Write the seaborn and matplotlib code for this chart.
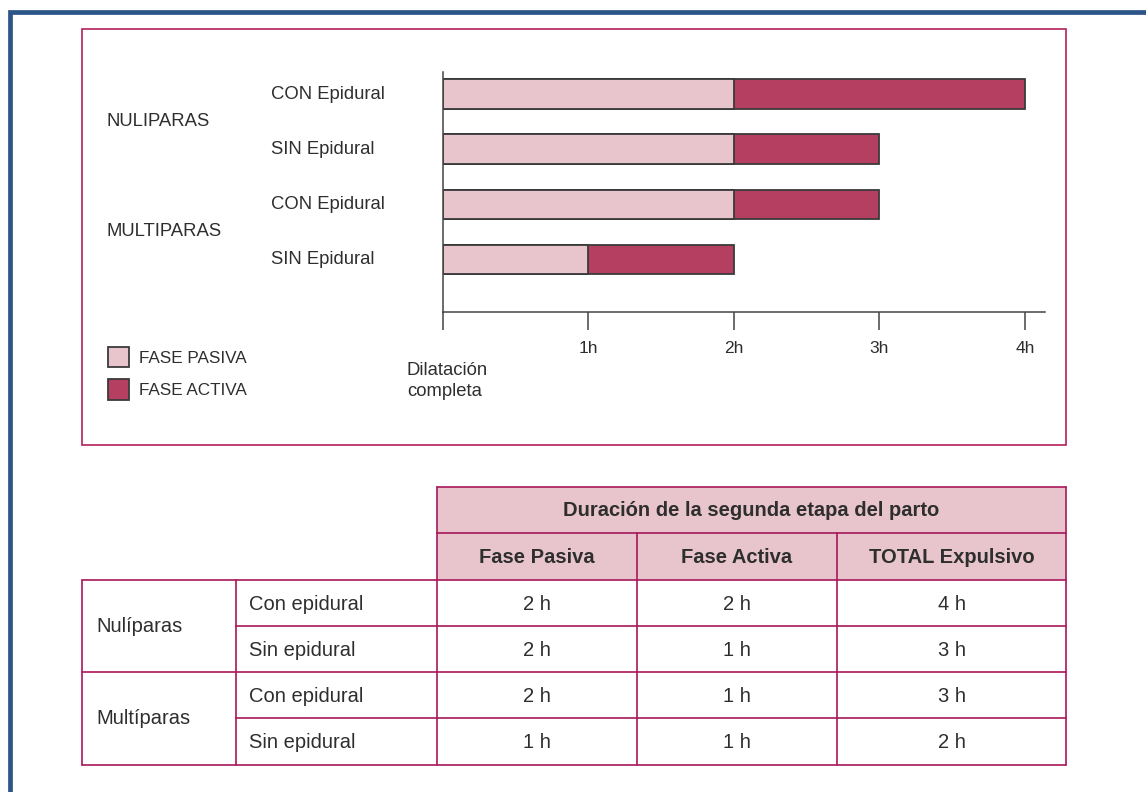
import matplotlib
matplotlib.use('Agg')
import matplotlib.pyplot as plt
from matplotlib.patches import Patch, Rectangle
from matplotlib.transforms import blended_transform_factory
import pandas as pd
import seaborn as sns

# datos del grafico
grupos = ['NULIPARAS', 'MULTIPARAS']
epidural = ['CON Epidural', 'SIN Epidural']
fase_pasiva = [2, 2, 2, 1]
fase_activa = [2, 1, 1, 1]
ticks_horas = [0, 1, 2, 3, 4]
ticks_labels = ['', '1h', '2h', '3h', '4h']

# datos de la tabla
tabla_titulo = 'Duración de la segunda etapa del parto'
tabla_columnas = ['Fase Pasiva', 'Fase Activa', 'TOTAL Expulsivo']
tabla_grupos = ['Nulíparas', 'Multíparas']
tabla_epidural = ['Con epidural', 'Sin epidural']

ROSA = '#e8c5cc'
GRANATE = '#b43f61'
BORDE = '#b3205c'
LINEA_TABLA = '#a8185a'
OSCURO = '#3a3a3a'
TEXTO = '#2e2e2e'
AZUL = '#2b5488'
W, H = 1146, 792

sns.set_theme(style='ticks')
plt.rcParams['font.family'] = ['Liberation Sans', 'DejaVu Sans']

fig = plt.figure(figsize=(W / 100, H / 100), dpi=100)

# capa de fondo en pixeles (marco, caja, tabla)
bg = fig.add_axes([0, 0, 1, 1])
bg.set_xlim(0, W)
bg.set_ylim(H, 0)
bg.axis('off')

bg.plot([10, 10, W], [H, 12, 12], color=AZUL, lw=3.4, solid_joinstyle='miter')
bg.add_patch(Rectangle((82, 29), 984, 416, fill=False, ec=BORDE, lw=1.2))

# ---- grafico de barras ----
x0, x1, ytop, ybot = 443, 1045, 72, 312
px_hora = 145.5
ax = fig.add_axes([x0 / W, 1 - ybot / H, (x1 - x0) / W, (ybot - ytop) / H])
ax.patch.set_alpha(0)

filas = [g + ' ' + e for g in grupos for e in epidural]
df = pd.DataFrame({'fila': filas, 'pasiva': fase_pasiva, 'activa': fase_activa})
df['total'] = df['pasiva'] + df['activa']

sns.barplot(data=df, x='total', y='fila', color=GRANATE, saturation=1, width=0.53,
            edgecolor=OSCURO, linewidth=1.3, errorbar=None, ax=ax)
sns.barplot(data=df, x='pasiva', y='fila', color=ROSA, saturation=1, width=0.53,
            edgecolor=OSCURO, linewidth=1.3, errorbar=None, ax=ax)

ax.set_xlim(0, (x1 - x0) / px_hora)
ax.set_ylim(3.96, -0.4)
ax.set_xlabel('')
ax.set_ylabel('')
ax.set_yticks([])
ax.set_xticks(ticks_horas)
ax.set_xticklabels(ticks_labels)
ax.tick_params(axis='x', bottom=True, direction='out', length=13, width=1.1,
               color='#444444', pad=8, labelsize=12.5, labelcolor=TEXTO)
for s in ['top', 'right']:
    ax.spines[s].set_visible(False)
for s in ['left', 'bottom']:
    ax.spines[s].set_color('#444444')
    ax.spines[s].set_linewidth(1.1)

trans = blended_transform_factory(fig.transFigure, ax.transData)
for i, fila in enumerate(filas):
    ax.text(271 / W, i, epidural[i % 2], transform=trans, ha='left', va='center',
            fontsize=13.3, color=TEXTO, clip_on=False)
for j, g in enumerate(grupos):
    ax.text(107 / W, 2 * j + 0.5, g, transform=trans, ha='left', va='center',
            fontsize=13.3, color=TEXTO, clip_on=False)

bg.text(407, 381, 'Dilatación\ncompleta', ha='left', va='center', fontsize=13.3,
        color=TEXTO, linespacing=1.35)

ax.legend(handles=[Patch(facecolor=ROSA, edgecolor=OSCURO, lw=1.3, label='FASE PASIVA'),
                   Patch(facecolor=GRANATE, edgecolor=OSCURO, lw=1.3, label='FASE ACTIVA')],
          loc='upper left', bbox_to_anchor=(108 / W, 1 - 347 / H), bbox_transform=fig.transFigure,
          frameon=False, fontsize=12.3, labelcolor=TEXTO, handlelength=1.2, handleheight=1.45,
          handletextpad=0.6, labelspacing=0.7, borderpad=0, borderaxespad=0)

# ---- tabla ----
col_x = [82, 236, 437, 637, 837, 1066]
row_y = [487, 533, 580, 626, 672, 718, 765]
lw_t = 1.2

bg.add_patch(Rectangle((col_x[2], row_y[0]), col_x[5] - col_x[2], row_y[2] - row_y[0],
                       fc=ROSA, ec='none'))
bg.plot([col_x[2], col_x[5]], [row_y[0]] * 2, color=LINEA_TABLA, lw=lw_t)
bg.plot([col_x[2], col_x[5]], [row_y[1]] * 2, color=LINEA_TABLA, lw=lw_t)
for y in [row_y[2], row_y[4], row_y[6]]:
    bg.plot([col_x[0], col_x[5]], [y, y], color=LINEA_TABLA, lw=lw_t)
for y in [row_y[3], row_y[5]]:
    bg.plot([col_x[1], col_x[5]], [y, y], color=LINEA_TABLA, lw=lw_t)
for x in [col_x[2], col_x[5]]:
    bg.plot([x, x], [row_y[0], row_y[6]], color=LINEA_TABLA, lw=lw_t)
for x in [col_x[3], col_x[4]]:
    bg.plot([x, x], [row_y[1], row_y[6]], color=LINEA_TABLA, lw=lw_t)
for x in [col_x[0], col_x[1]]:
    bg.plot([x, x], [row_y[2], row_y[6]], color=LINEA_TABLA, lw=lw_t)

bg.text((col_x[2] + col_x[5]) / 2, (row_y[0] + row_y[1]) / 2 + 1, tabla_titulo,
        ha='center', va='center', fontsize=14.5, fontweight='bold', color=TEXTO)
for k, c in enumerate(tabla_columnas):
    bg.text((col_x[2 + k] + col_x[3 + k]) / 2, (row_y[1] + row_y[2]) / 2 + 1, c,
            ha='center', va='center', fontsize=14.5, fontweight='bold', color=TEXTO)

for j, g in enumerate(tabla_grupos):
    bg.text(96, row_y[2 + 2 * j + 1], g, ha='left', va='center', fontsize=14.5, color=TEXTO)
    for e in range(2):
        i = 2 * j + e
        yc = (row_y[2 + i] + row_y[3 + i]) / 2 + 1
        bg.text(249, yc, tabla_epidural[e], ha='left', va='center', fontsize=14.5, color=TEXTO)
        vals = [fase_pasiva[i], fase_activa[i], fase_pasiva[i] + fase_activa[i]]
        for k, v in enumerate(vals):
            bg.text((col_x[2 + k] + col_x[3 + k]) / 2, yc, f'{v} h', ha='center',
                    va='center', fontsize=14.5, color=TEXTO)

fig.savefig('out.png', dpi=100)
